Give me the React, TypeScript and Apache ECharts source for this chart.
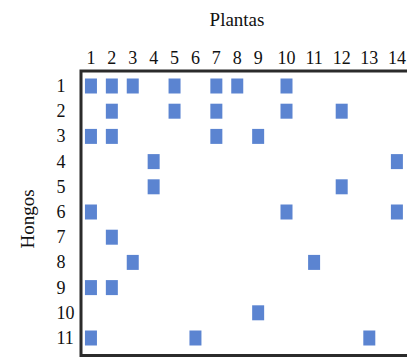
import React, { useEffect, useRef } from "react";
import * as echarts from "echarts";

const plantsLow = ["1", "2", "3", "4", "5", "6", "7", "8", "9"];
const plantsHigh = ["10", "11", "12", "13", "14"];
const fungi = ["1", "2", "3", "4", "5", "6", "7", "8", "9", "10", "11"];
// plants associated with each fungus (row 1..11)
const fungusPlants: number[][] = [
  [1, 2, 3, 5, 7, 8, 10],
  [2, 5, 7, 10, 12],
  [1, 2, 7, 9],
  [4, 14],
  [4, 12],
  [1, 10, 14],
  [2],
  [3, 11],
  [1, 2],
  [9],
  [1, 6, 13],
];
const xTitle = "Plantas";
const yTitle = "Hongos";

const FONT = "'Liberation Serif', 'DejaVu Serif', serif";
const BLUE = "#3265c6";

export default function App() {
  const ref = useRef<HTMLDivElement>(null);
  useEffect(() => {
    if (!ref.current) return;
    const chart = echarts.init(ref.current, null, { renderer: "svg" });
    const low: [string, string][] = [];
    const high: [string, string][] = [];
    fungusPlants.forEach((plist, i) => {
      plist.forEach((p) => {
        if (p <= 9) low.push([String(p), fungi[i]]);
        else high.push([String(p), fungi[i]]);
      });
    });
    const labelStyle = { fontFamily: FONT, fontSize: 18, color: "#111" };
    chart.setOption({
      animation: false,
      backgroundColor: "#ffffff",
      grid: [
        { left: 80.5, top: 73.4, width: 188.1, height: 277.2, outerBoundsMode: "none", containLabel: false },
        { left: 272.7, top: 73.4, width: 138, height: 277.2, outerBoundsMode: "none", containLabel: false },
      ],
      xAxis: [
        {
          type: "category",
          gridIndex: 0,
          position: "top",
          data: plantsLow,
          axisLine: { show: false },
          axisTick: { show: false },
          splitLine: { show: false },
          axisLabel: { ...labelStyle, margin: 6, interval: 0 },
        },
        {
          type: "category",
          gridIndex: 1,
          position: "top",
          data: plantsHigh,
          axisLine: { show: false },
          axisTick: { show: false },
          splitLine: { show: false },
          axisLabel: { ...labelStyle, margin: 6, interval: 0 },
        },
      ],
      yAxis: [
        {
          type: "category",
          gridIndex: 0,
          inverse: true,
          data: fungi,
          axisLine: { show: false },
          axisTick: { show: false },
          splitLine: { show: false },
          axisLabel: { ...labelStyle, margin: 24, align: "left", interval: 0, padding: [5, 0, 0, 0] },
        },
        {
          type: "category",
          gridIndex: 1,
          inverse: true,
          data: fungi,
          axisLine: { show: false },
          axisTick: { show: false },
          splitLine: { show: false },
          axisLabel: { show: false },
        },
      ],
      series: [
        {
          type: "scatter",
          xAxisIndex: 0,
          yAxisIndex: 0,
          symbol: "rect",
          symbolSize: [12, 15],
          itemStyle: { color: BLUE },
          data: low,
        },
        {
          type: "scatter",
          xAxisIndex: 1,
          yAxisIndex: 1,
          symbol: "rect",
          symbolSize: [12, 15],
          itemStyle: { color: BLUE },
          data: high,
        },
      ],
      graphic: [
        {
          type: "rect",
          shape: { x: 81, y: 71, width: 400, height: 284.5 },
          style: { fill: "none", stroke: "#2b2b2b", lineWidth: 3 },
          silent: true,
        },
        {
          type: "text",
          x: 237,
          y: 19,
          style: {
            text: xTitle,
            font: `19px ${FONT}`,
            fill: "#111",
            textAlign: "center",
            textVerticalAlign: "middle",
          },
        },
        {
          type: "text",
          x: 27,
          y: 219,
          rotation: Math.PI / 2,
          style: {
            text: yTitle,
            font: `19px ${FONT}`,
            fill: "#111",
            textAlign: "center",
            textVerticalAlign: "middle",
          },
        },
      ],
    });
    return () => chart.dispose();
  }, []);
  return (
    <div
      ref={ref}
      style={{ position: "absolute", left: 0, top: 0, width: 407, height: 359 }}
    />
  );
}
